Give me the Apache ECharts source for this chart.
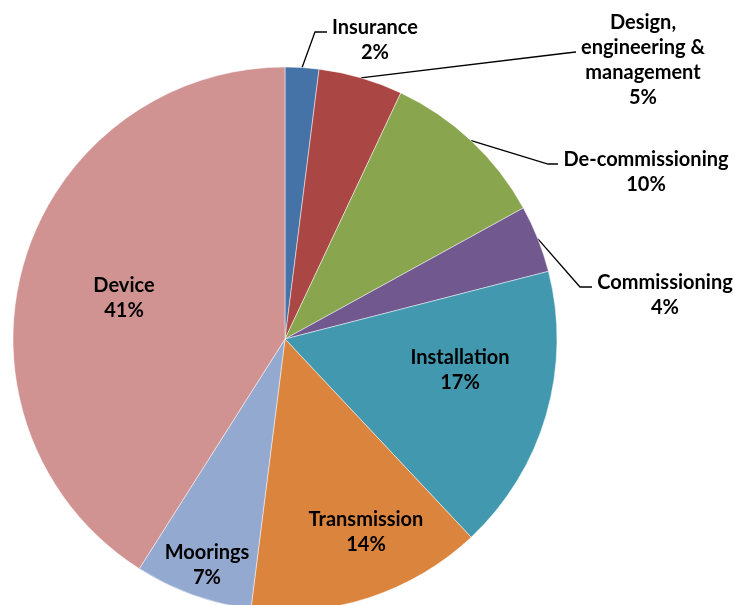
<!DOCTYPE html>
<html>
<head>
<meta charset="utf-8">
<script src="https://cdn.jsdelivr.net/npm/echarts@6/dist/echarts.min.js"></script>
<style>
  html, body { margin: 0; padding: 0; background: #fff; }
  #chart { width: 735px; height: 605px; }
</style>
</head>
<body>
<div id="chart"></div>
<script>
// Cost breakdown, clockwise from 12 o'clock
const categories = [
  'Insurance',
  'Design,\nengineering &\nmanagement',
  'De-commissioning',
  'Commissioning',
  'Installation',
  'Transmission',
  'Moorings',
  'Device'
];
const shares = [2, 5, 10, 4, 17, 14, 7, 41];
const colors = ['#4572A7', '#AA4643', '#89A54E', '#71588F', '#4198AF', '#DB843D', '#93A9CF', '#D19392'];

// Pie geometry (pixels)
const CX = 285, CY = 339, R = 272;

// Label block centres; entries with a leader also carry the elbow and end of the line
const labelSpots = [
  { x: 375, y: 40, elbow: [315, 32], end: [327, 32] },
  { x: 643, y: 60, elbow: [567, 53], end: [576, 52] },
  { x: 646, y: 172, elbow: [548, 164], end: [558, 164] },
  { x: 665, y: 295, elbow: [580, 287], end: [592, 287] },
  { x: 460, y: 370 },
  { x: 366, y: 532 },
  { x: 207, y: 565 },
  { x: 124, y: 298 }
];

const total = shares.reduce((a, b) => a + b, 0);
// edge point of each slice at its middle angle (clockwise from top)
const edgePoints = (() => {
  let acc = 0;
  return shares.map(v => {
    const mid = (acc + v / 2) / total * Math.PI * 2;
    acc += v;
    return [CX + R * Math.sin(mid), CY - R * Math.cos(mid)];
  });
})();

const data = categories.map((name, i) => {
  const outside = !!labelSpots[i].elbow;
  return {
    name: name,
    value: shares[i],
    itemStyle: { color: colors[i] },
    label: { position: outside ? 'outside' : 'inside' },
    labelLine: { show: outside }
  };
});

const chart = echarts.init(document.getElementById('chart'), null, { renderer: 'canvas' });
chart.setOption({
  animation: false,
  backgroundColor: '#ffffff',
  series: [{
    type: 'pie',
    center: [CX, CY],
    radius: [0, R],
    startAngle: 90,
    clockwise: true,
    avoidLabelOverlap: false,
    minShowLabelAngle: 0,
    itemStyle: { borderColor: 'rgba(255,255,255,0.6)', borderWidth: 0.8 },
    emphasis: { disabled: true },
    label: {
      show: true,
      formatter: p => p.name + '\n' + p.value + '%',
      fontFamily: 'Lato',
      fontWeight: 'bold',
      fontSize: 20,
      lineHeight: 25,
      color: '#000',
      align: 'center'
    },
    labelLine: {
      show: false,
      lineStyle: { color: '#000', width: 1.3 }
    },
    labelLayout: params => {
      const i = params.dataIndex;
      const s = labelSpots[i];
      const out = { x: s.x, y: s.y, align: 'center', verticalAlign: 'middle' };
      if (s.elbow) {
        out.labelLinePoints = [edgePoints[i], s.elbow, s.end];
      }
      return out;
    },
    data: data
  }]
});
</script>
</body>
</html>
